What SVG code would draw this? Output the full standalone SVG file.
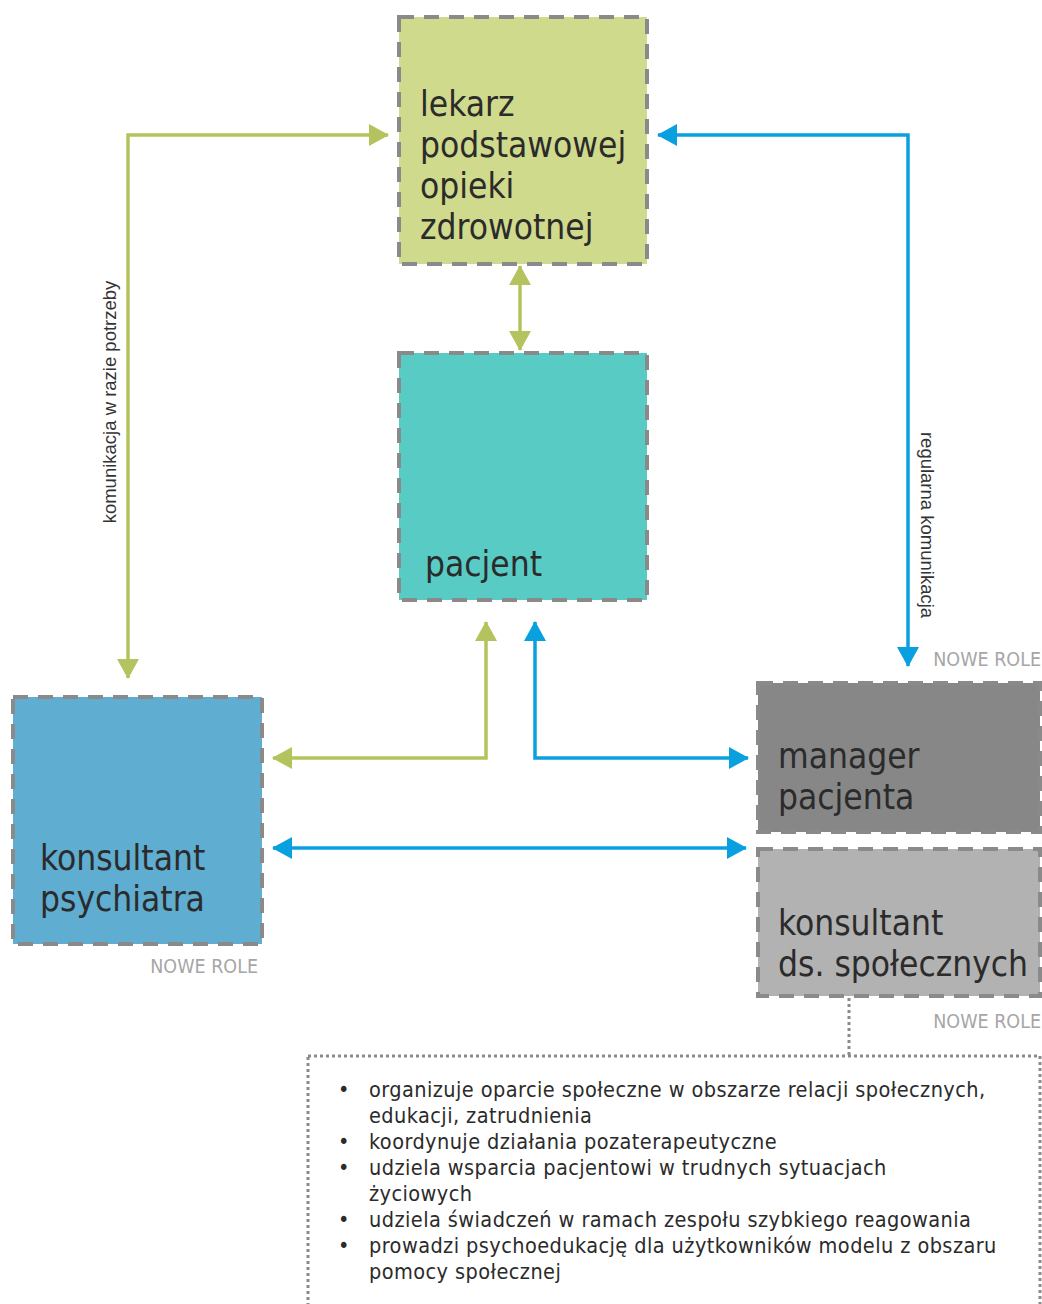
<svg xmlns="http://www.w3.org/2000/svg" width="1042" height="1304" viewBox="0 0 1042 1304">
  <style>
    .box { stroke: #8a8a8a; stroke-width: 4; stroke-dasharray: 15 10; }
    .title { font-family: "DejaVu Sans Condensed", "DejaVu Sans", sans-serif; font-size: 35px; fill: #2b2b2b; }
    .role { font-family: "DejaVu Sans Condensed", "DejaVu Sans", sans-serif; font-size: 19.5px; fill: #a6a6a6; }
    .edge-label { font-family: "Liberation Sans", Arial, sans-serif; font-size: 18.5px; fill: #333333; }
    .green { fill: none; stroke: #b5c35e; stroke-width: 3.5; }
    .blue { fill: none; stroke: #0aa0e0; stroke-width: 3.5; }
    .list { font-family: "DejaVu Sans Condensed", "DejaVu Sans", sans-serif; font-size: 21.5px; letter-spacing: 0.43px; fill: #2b2b2b; }
  </style>
  <defs>
    <marker id="ag" viewBox="0 0 20 22" refX="19" refY="11" markerWidth="20" markerHeight="22" markerUnits="userSpaceOnUse" orient="auto-start-reverse">
      <path d="M0,0 L20,11 L0,22 Z" fill="#b5c35e"/>
    </marker>
    <marker id="ab" viewBox="0 0 20 22" refX="19" refY="11" markerWidth="20" markerHeight="22" markerUnits="userSpaceOnUse" orient="auto-start-reverse">
      <path d="M0,0 L20,11 L0,22 Z" fill="#0aa0e0"/>
    </marker>
  </defs>

  <!-- connectors -->
  <g id="connectors">
    <path class="green" d="M128,678 V135 H388" marker-start="url(#ag)" marker-end="url(#ag)"/>
    <path class="green" d="M520,266 V350" marker-start="url(#ag)" marker-end="url(#ag)"/>
    <path class="blue" d="M658,135 H908 V666" marker-start="url(#ab)" marker-end="url(#ab)"/>
    <path class="green" d="M486,622 V758 H273" marker-start="url(#ag)" marker-end="url(#ag)"/>
    <path class="blue" d="M535,622 V758 H748" marker-start="url(#ab)" marker-end="url(#ab)"/>
    <path class="blue" d="M273,848 H746" marker-start="url(#ab)" marker-end="url(#ab)"/>
    <path d="M849,998 V1055" fill="none" stroke="#8a8a8a" stroke-width="3" stroke-dasharray="3 3"/>
    <text class="edge-label" transform="translate(116,402) rotate(-90)" text-anchor="middle">komunikacja w razie potrzeby</text>
    <text class="edge-label" transform="translate(921,525) rotate(90)" text-anchor="middle">regularna komunikacja</text>
  </g>

  <g id="lekarz">
    <rect class="box" x="399" y="17" width="248" height="247" fill="#d0da8c"/>
    <text class="title" x="420" y="116">lekarz<tspan x="420" dy="41">podstawowej</tspan><tspan x="420" dy="41">opieki</tspan><tspan x="420" dy="41">zdrowotnej</tspan></text>
  </g>

  <g id="pacjent">
    <rect class="box" x="399" y="353" width="248" height="247" fill="#58cbc4"/>
    <text class="title" x="425" y="576">pacjent</text>
  </g>

  <g id="psychiatra">
    <rect class="box" x="13" y="697" width="249" height="247" fill="#5fadd0"/>
    <text class="title" x="40" y="870">konsultant<tspan x="40" dy="41">psychiatra</tspan></text>
    <text class="role" x="258" y="973" text-anchor="end">NOWE ROLE</text>
  </g>

  <g id="manager">
    <rect class="box" x="758" y="683" width="282" height="149" fill="#878787"/>
    <text class="title" x="778" y="768">manager<tspan x="778" dy="41">pacjenta</tspan></text>
    <text class="role" x="1041" y="666" text-anchor="end">NOWE ROLE</text>
  </g>

  <g id="spoleczny">
    <rect class="box" x="758" y="849" width="282" height="147" fill="#b2b2b2"/>
    <text class="title" x="778" y="935">konsultant<tspan x="778" dy="41">ds. społecznych</tspan></text>
    <text class="role" x="1041" y="1028" text-anchor="end">NOWE ROLE</text>
  </g>

  <g id="opis">
    <rect x="308" y="1056" width="732" height="260" fill="none" stroke="#8a8a8a" stroke-width="3" stroke-dasharray="3 3"/>
    <g class="list">
      <text x="338" y="1097">•</text>
      <text x="369" y="1097">organizuje oparcie społeczne w obszarze relacji społecznych,<tspan x="369" dy="26">edukacji, zatrudnienia</tspan></text>
      <text x="338" y="1149">•</text>
      <text x="369" y="1149">koordynuje działania pozaterapeutyczne</text>
      <text x="338" y="1175">•</text>
      <text x="369" y="1175">udziela wsparcia pacjentowi w trudnych sytuacjach<tspan x="369" dy="26">życiowych</tspan></text>
      <text x="338" y="1227">•</text>
      <text x="369" y="1227">udziela świadczeń w ramach zespołu szybkiego reagowania</text>
      <text x="338" y="1253">•</text>
      <text x="369" y="1253">prowadzi psychoedukację dla użytkowników modelu z obszaru<tspan x="369" dy="26">pomocy społecznej</tspan></text>
    </g>
  </g>
</svg>
